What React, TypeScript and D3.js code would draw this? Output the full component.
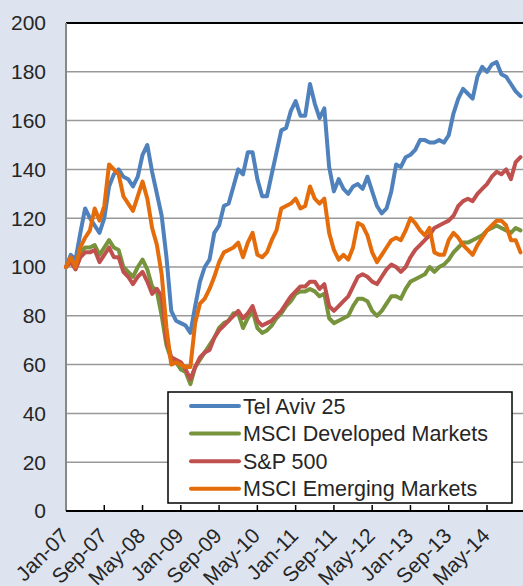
import * as d3 from 'd3'

// Monthly index values, Jan-07 = 100 (Jan-07 .. Dec-14)
const telAviv25 = [
  100, 105, 103, 114, 124, 120, 117, 114, 120, 133, 138, 140,
  137, 136, 133, 137, 146, 150, 139, 130, 121, 104, 82, 78,
  77, 76, 73, 84, 94, 100, 103, 114, 117, 125, 126, 133,
  140, 138, 147, 147, 136, 129, 129, 138, 147, 156, 157, 164,
  168, 162, 162, 175, 167, 161, 165, 141, 131, 136, 132, 130,
  133, 134, 132, 137, 131, 125, 122, 124, 131, 142, 141, 145,
  146, 148, 152, 152, 151, 151, 152, 151, 154, 163, 169, 173,
  171, 169, 178, 182, 180, 183, 184, 179, 178, 175, 172, 170,
]
const msciDeveloped = [
  100, 103, 101, 106, 108, 108, 109, 105, 108, 111, 108, 107,
  100, 98, 96, 100, 103, 99, 92, 90, 80, 68, 62, 61,
  58, 57, 52, 59, 62, 65, 68, 71, 75, 77, 78, 81,
  81, 75, 79, 82, 75, 73, 74, 76, 79, 81, 84, 86,
  89, 90, 90, 91, 90, 88, 89, 79, 77, 78, 79, 80,
  84, 87, 87, 86, 82, 80, 82, 85, 88, 88, 87, 91,
  94, 95, 96, 97, 100, 98, 100, 101, 103, 106, 108, 110,
  110, 111, 112, 113, 115, 116, 117, 116, 115, 114, 116, 115,
]
const sp500 = [
  100, 102, 99, 104, 106, 106, 107, 102, 105, 108, 104, 104,
  98, 96, 93, 96, 98, 94, 89, 91, 88, 70, 63, 62,
  61, 58, 54, 59, 63, 65, 66, 71, 74, 76, 78, 80,
  82, 79, 81, 84, 78, 76, 77, 78, 80, 82, 85, 88,
  90, 92, 92, 94, 94, 91, 93, 84, 82, 84, 86, 88,
  92, 96, 97, 96, 94, 93, 96, 99, 101, 100, 98, 100,
  104, 107, 109, 111, 113, 116, 117, 118, 119, 121, 125, 127,
  128, 127, 130, 132, 134, 137, 139, 138, 140, 136, 143, 145,
]
const msciEmerging = [
  100, 104, 100, 108, 112, 115, 124, 119, 125, 142, 140, 138,
  129, 126, 123, 129, 135, 128, 116, 109, 97, 75, 60, 61,
  60, 59, 59, 77, 85, 87, 91, 96, 102, 106, 107, 108,
  110, 104, 110, 114, 105, 104, 106, 111, 115, 124, 125, 126,
  128, 124, 125, 133, 128, 126, 128, 114, 107, 103, 105, 103,
  108, 118, 117, 113, 106, 102, 105, 108, 111, 112, 111, 115,
  120, 118, 115, 113, 116, 106, 105, 105, 111, 114, 112, 109,
  107, 105, 109, 112, 115, 117, 119, 119, 117, 111, 111, 106,
]

const seriesNames = ['Tel Aviv 25', 'MSCI Developed Markets', 'S&P 500', 'MSCI Emerging Markets']
const seriesValues = [telAviv25, msciDeveloped, sp500, msciEmerging]
const seriesColors = ['#4f81bd', '#77933c', '#c0504d', '#e46c0a']

const tickLabels = ['Jan-07', 'Sep-07', 'May-08', 'Jan-09', 'Sep-09', 'May-10', 'Jan-11', 'Sep-11', 'May-12', 'Jan-13', 'Sep-13', 'May-14']
const tickEvery = 8
const yTicks = [0, 20, 40, 60, 80, 100, 120, 140, 160, 180, 200]

const W = 523
const H = 586
const font = 'Liberation Sans, Arial, sans-serif'

export default function App() {
  const x = d3.scaleLinear().domain([0, 88]).range([66, 487])
  const y = d3.scaleLinear().domain([0, 200]).range([511, 23])
  const line = d3
    .line<number>()
    .x((_, i) => x(i))
    .y((d) => y(d))

  const legendX = 168
  const legendY = 392
  const rowH = 27.6

  return (
    <svg
      width={W}
      height={H}
      style={{ position: 'absolute', left: 0, top: 0, display: 'block' }}
      fontFamily={font}
    >
      <rect x={0} y={0} width={W} height={H} fill="#dde4ef" />
      <rect x={x(0)} y={y(200)} width={W - x(0)} height={y(0) - y(200)} fill="#ffffff" />

      {/* grid */}
      {yTicks.slice(1, -1).map((t) => (
        <line key={t} x1={x(0)} x2={W} y1={y(t)} y2={y(t)} stroke="#999999" strokeWidth={1.5} />
      ))}
      <line x1={x(0)} x2={W} y1={y(200)} y2={y(200)} stroke="#000" strokeWidth={2} />

      {/* y axis */}
      <line x1={x(0)} x2={x(0)} y1={y(200)} y2={y(0)} stroke="#888888" strokeWidth={2} />
      {yTicks.map((t) => (
        <text key={t} x={46} y={y(t)} dy="0.35em" textAnchor="end" fontSize={21} fill="#262626">
          {t}
        </text>
      ))}

      {/* series */}
      {seriesValues.map((vals, k) => (
        <path
          key={k}
          d={line(vals) || ''}
          fill="none"
          stroke={seriesColors[k]}
          strokeWidth={4}
          strokeLinejoin="round"
          strokeLinecap="round"
        />
      ))}

      {/* x axis */}
      <line x1={x(0)} x2={W} y1={y(0)} y2={y(0)} stroke="#000" strokeWidth={2} />
      {tickLabels.map((lab, i) => {
        const tx = x(i * tickEvery)
        return (
          <g key={lab}>
            {i > 0 && <line x1={tx} x2={tx} y1={y(0)} y2={y(0) - 6} stroke="#000" strokeWidth={1.5} />}
            <text
              transform={`translate(${tx + 4},${y(0) + 26}) rotate(-45)`}
              textAnchor="end"
              fontSize={21}
              fill="#262626"
            >
              {lab}
            </text>
          </g>
        )
      })}
      {[12, 13].map((i) => (
        <line key={i} x1={x(i * tickEvery)} x2={x(i * tickEvery)} y1={y(0)} y2={y(0) - 6} stroke="#000" strokeWidth={1.5} />
      ))}

      {/* legend */}
      <rect x={legendX} y={legendY} width={344} height={111} fill="#fff" stroke="#000" strokeWidth={1.5} />
      {seriesNames.map((name, k) => {
        const cy = legendY + 14 + k * rowH
        return (
          <g key={name}>
            <line x1={legendX + 23} x2={legendX + 71} y1={cy} y2={cy} stroke={seriesColors[k]} strokeWidth={4} strokeLinecap="round" />
            <text x={legendX + 75} y={cy} dy="0.35em" fontSize={21.5} fill="#262626">
              {name}
            </text>
          </g>
        )
      })}
    </svg>
  )
}
